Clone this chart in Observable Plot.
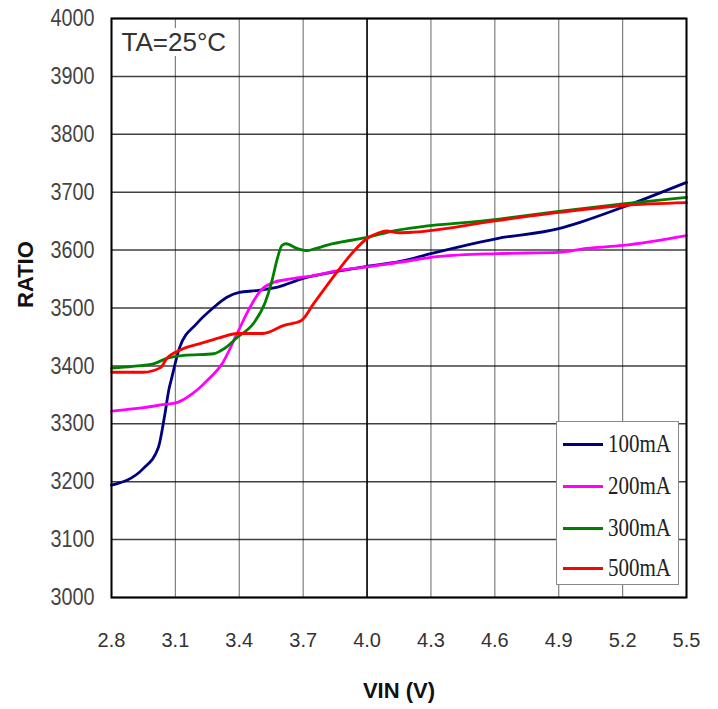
<!DOCTYPE html>
<html><head><meta charset="utf-8">
<script src="https://cdn.jsdelivr.net/npm/d3@7"></script>
<script src="https://cdn.jsdelivr.net/npm/@observablehq/plot@0.6"></script>
<style>
body{margin:0;background:#fff}
#wrap{position:relative;width:718px;height:709px}
#legend{position:absolute;left:556px;top:421px;width:123px;height:164px;background:#fff;border:1px solid #8a8a8a;box-sizing:border-box;font-family:"Liberation Serif","DejaVu Serif",serif;font-size:25px;color:#222}
#legend .row{position:absolute;left:6px;height:24px;display:flex;align-items:center;white-space:nowrap}
#legend .sw{width:40px;height:3px;margin-right:5px;flex:none}
#legend .lbl{display:inline-block;transform:scaleX(0.84);transform-origin:left center;line-height:24px}
</style>
</head><body><div id="wrap"></div>
<script>
const xTicks = [2.8, 3.1, 3.4, 3.7, 4.0, 4.3, 4.6, 4.9, 5.2, 5.5];
const yTicks = [3000, 3100, 3200, 3300, 3400, 3500, 3600, 3700, 3800, 3900, 4000];
const majorX = [4.0];
const seriesNames = ["100mA", "200mA", "300mA", "500mA"];
const seriesColors = ["#00007f", "#ff00ff", "#008000", "#ff0000"];

const vin100 =   [2.8, 2.95, 3.02, 3.05, 3.07, 3.08, 3.12, 3.20, 3.28, 3.34, 3.40, 3.48, 3.58, 3.70, 3.84, 4.0, 4.15, 4.30, 4.61, 4.90, 5.0, 5.20, 5.5];
const ratio100 = [3194, 3223, 3259, 3315, 3360, 3375, 3432, 3473, 3501, 3518, 3527, 3530, 3536, 3551, 3562, 3572, 3580, 3594, 3620, 3637, 3648, 3674, 3717];

const vin200 =   [2.8, 2.95, 3.04, 3.11, 3.18, 3.25, 3.32, 3.39, 3.45, 3.50, 3.56, 3.62, 3.75, 3.87, 4.0, 4.15, 4.34, 4.61, 4.90, 5.03, 5.20, 5.5];
const ratio200 = [3322, 3328, 3333, 3337, 3352, 3375, 3404, 3456, 3501, 3530, 3544, 3549, 3556, 3565, 3571, 3579, 3589, 3594, 3596, 3603, 3608, 3625];

const vin300 =   [2.8, 2.90, 3.0, 3.06, 3.14, 3.28, 3.33, 3.39, 3.47, 3.52, 3.55, 3.58, 3.60, 3.62, 3.67, 3.72, 3.76, 3.84, 4.0, 4.11, 4.61, 4.90, 5.20, 5.5];
const ratio300 = [3396, 3399, 3404, 3413, 3418, 3421, 3430, 3449, 3475, 3508, 3542, 3587, 3608, 3611, 3603, 3599, 3603, 3611, 3622, 3632, 3653, 3667, 3680, 3691];

const vin500 =   [2.8, 2.95, 3.03, 3.06, 3.12, 3.22, 3.31, 3.39, 3.51, 3.61, 3.69, 3.75, 3.84, 3.94, 4.0, 4.05, 4.09, 4.15, 4.22, 4.61, 4.90, 5.20, 5.5];
const ratio500 = [3389, 3389, 3397, 3413, 3427, 3439, 3449, 3456, 3456, 3470, 3478, 3508, 3553, 3599, 3620, 3629, 3633, 3630, 3631, 3651, 3665, 3677, 3682];

const vins = [vin100, vin200, vin300, vin500];
const ratios = [ratio100, ratio200, ratio300, ratio500];
const data = [];
seriesNames.forEach((s, i) => vins[i].forEach((v, j) => data.push({series: s, vin: v, ratio: ratios[i][j]})));

const chart = Plot.plot({
  width: 718, height: 709,
  marginLeft: 111, marginRight: 32, marginTop: 18, marginBottom: 112,
  style: {fontFamily: "'Liberation Sans',Arial,sans-serif", color: "#333", background: "#fff"},
  x: {domain: [2.8, 5.5]},
  y: {domain: [3000, 4000]},
  color: {domain: seriesNames, range: seriesColors},
  marks: [
    Plot.gridX(xTicks, {stroke: "#000", strokeOpacity: 0.5, strokeWidth: 1.2}),
    Plot.gridY(yTicks, {stroke: "#000", strokeOpacity: 0.75, strokeWidth: 1.5}),
    Plot.ruleX(majorX, {stroke: "#000", strokeWidth: 1.5}),
    Plot.text(["TA=25°C"], {ariaLabel: "ta-label", frameAnchor: "top-left", dx: 10, dy: 24, lineAnchor: "middle", textAnchor: "start", fontSize: 26, fill: "#333", stroke: "white", strokeWidth: 10}),
    Plot.line(data, {x: "vin", y: "ratio", z: "series", stroke: "series", strokeWidth: 2.8, curve: "monotone-x"}),
    Plot.frame({stroke: "#000", strokeWidth: 2}),
    Plot.axisX({ticks: xTicks, tickSize: 0, tickPadding: 35, fontSize: 20, tickFormat: d => d.toFixed(1), label: null}),
    Plot.axisY({ticks: yTicks, tickSize: 0, tickPadding: 17, fontSize: 24, tickFormat: d => String(d), label: null}),
    Plot.text(["VIN (V)"], {ariaLabel: "x-title", frameAnchor: "bottom", dy: 93, lineAnchor: "middle", fontSize: 22, fontWeight: "bold", fill: "#111"}),
    Plot.text(["RATIO"], {ariaLabel: "y-title", frameAnchor: "left", dx: -86, rotate: -90, fontSize: 22, fontWeight: "bold", fill: "#111"})
  ]
});
const wrap = document.getElementById("wrap");
wrap.appendChild(chart);

// condensed look of the original lettering
const svg = d3.select(chart);
svg.selectAll("g[aria-label='y-axis tick label'] text").attr("textLength", 44).attr("lengthAdjust", "spacingAndGlyphs").attr("fill", "#444");
svg.selectAll("g[aria-label='ta-label'] text").attr("textLength", 87).attr("lengthAdjust", "spacingAndGlyphs");
svg.selectAll("g[aria-label='x-title'] text").attr("textLength", 82).attr("lengthAdjust", "spacing");
svg.selectAll("g[aria-label='y-title'] text").attr("textLength", 85).attr("lengthAdjust", "spacing");

const legend = document.createElement("div");
legend.id = "legend";
const rowTops = [10, 52, 94, 134];
seriesNames.forEach((s, i) => {
  const row = document.createElement("div");
  row.className = "row";
  row.style.top = rowTops[i] + "px";
  const sw = document.createElement("span");
  sw.className = "sw";
  sw.style.background = seriesColors[i];
  const t = document.createElement("span");
  t.className = "lbl";
  t.textContent = s;
  row.appendChild(sw); row.appendChild(t);
  legend.appendChild(row);
});
wrap.appendChild(legend);
</script>
</body></html>
